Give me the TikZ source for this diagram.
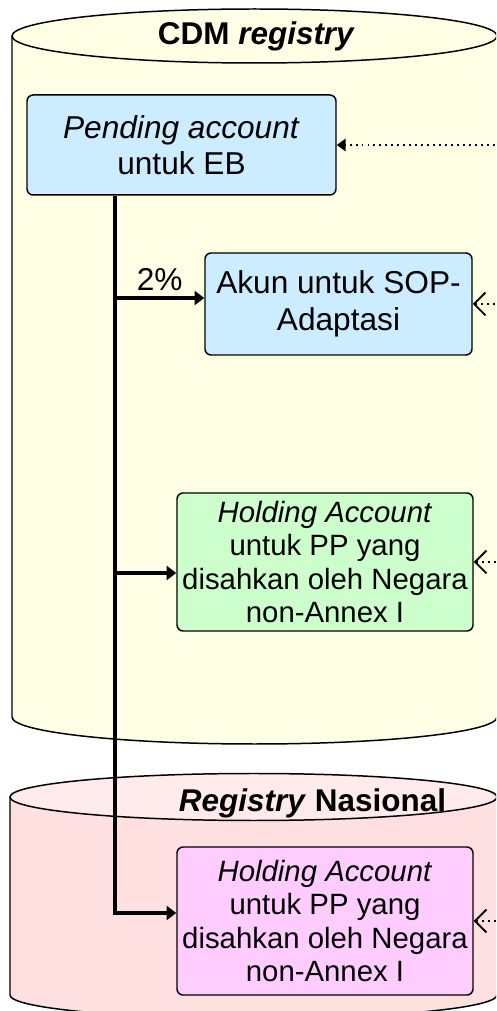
\documentclass[tikz,border=0pt]{standalone}
\usepackage{fontspec}
\setmainfont{Liberation Sans}
\usetikzlibrary{arrows.meta}

\definecolor{cdmkuning}{HTML}{FFFFE6}
\definecolor{nasmerah}{HTML}{FFE0E0}
\definecolor{nasmuda}{HTML}{FFEBEB}
\definecolor{akunbiru}{HTML}{CCECFF}
\definecolor{akunhijau}{HTML}{CCFFCC}
\definecolor{akunungu}{HTML}{FFCCFF}

\begin{document}
\begin{tikzpicture}[line width=0.85pt,
    akun/.style={draw, rounded corners=3.5pt, align=center, inner sep=0pt,
      font=\fontsize{16.7}{19}\selectfont},
    besar/.style={font=\fontsize{18}{20.8}\selectfont},
    judul/.style={anchor=base, inner sep=0pt, font=\fontsize{17.9}{21}\selectfont\bfseries},
    cabang/.style={line width=2.2pt, -{Triangle[length=5.5pt,width=8pt]}},
    titik/.style={line width=1.1pt, dash pattern=on 1.1pt off 2.3pt,
      -{Straight Barb[length=6.5pt,width=13pt,line width=1.1pt]}}]
        \useasboundingbox (0,0) rectangle (9.92,20.22);
        \clip (0,0) rectangle (9.92,20.22);

        % CDM registry
        \draw[fill=cdmkuning] (0.24,19.5) -- (0.24,5.88)
            arc[start angle=180, end angle=360, x radius=4.85, y radius=0.54] -- (9.94,19.5);
        \draw[fill=cdmkuning] (5.09,19.5) ellipse[x radius=4.85, y radius=0.54];
        \node[judul] (cdm) at (5.13,19.32) {CDM \textit{registry}};

        % Registry Nasional
        \draw[fill=nasmerah] (0.2,4.28) -- (0.2,0.32)
            arc[start angle=180, end angle=360, x radius=4.87, y radius=0.47] -- (9.94,4.28);
        \draw[fill=nasmuda] (5.07,4.28) ellipse[x radius=4.87, y radius=0.47];

        % 各个账户
        \node[akun, besar, fill=akunbiru, minimum width=6.18cm, minimum height=2cm] (pending)
            at (3.63,17.32) {\textit{Pending account}\\untuk EB};
        \node[akun, besar, fill=akunbiru, minimum width=5.34cm, minimum height=2.04cm] (sop)
            at (6.77,14.14) {Akun untuk SOP-\\Adaptasi};
        \node[akun, fill=akunhijau, minimum width=5.92cm, minimum height=2.76cm] (holding)
            at (6.5,8.98) {\textit{Holding Account}\\untuk PP yang\\disahkan oleh Negara\\non-Annex I};
        \node[akun, fill=akunungu, minimum width=5.92cm, minimum height=2.96cm] (nasional)
            at (6.5,1.8) {\textit{Holding Account}\\untuk PP yang\\disahkan oleh Negara\\non-Annex I};

        % 分配
        \coordinate (b1) at (2.3,14.26);
        \coordinate (b2) at (2.3,8.76);
        \coordinate (b3) at (2.3,1.96);
        \draw[cabang] (pending.south -| b3) -- (b3) -- (b3 -| nasional.west);
        \draw[cabang] (b1) -- (b1 -| sop.west) node[midway, above, besar] (persen) {2\%};
        \draw[cabang] (b2) -- (b2 -| holding.west);

        \node[judul] (nas) at (6.25,3.99) {\textit{Registry} Nasional};

        % 右边进来的虚线
        \draw[titik, -{Triangle[length=5pt,width=7pt]}] ([xshift=4cm]pending.east) -- (pending.east);
        \draw[titik] ([xshift=2cm]sop.east) -- (sop.east);
        \draw[titik] ([xshift=2cm]holding.east) -- (holding.east);
        \draw[titik] ([xshift=2cm]nasional.east) -- (nasional.east);
    \end{tikzpicture}
\end{document}
